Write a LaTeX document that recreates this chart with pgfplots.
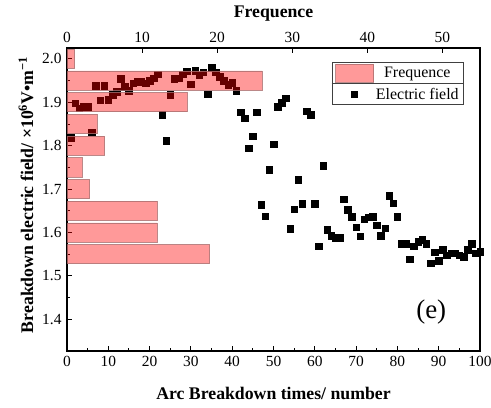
\documentclass[border=0pt]{standalone}
\usepackage{fontspec}
\setmainfont{Liberation Serif}
\usepackage{pgfplots}
\pgfplotsset{compat=1.18}
\definecolor{barfill}{RGB}{255,0,0}
\definecolor{barline}{RGB}{170,110,110}
\pgfplotsset{
  barlegend/.style={legend image code/.code={\draw[##1] (0bp,-9bp) rectangle (38bp,9bp);}},
  marklegend/.style={legend image code/.code={\draw[##1] plot coordinates {(19bp,0bp)};}},
}
\begin{document}
\begin{tikzpicture}
\begin{axis}[name=main,
  width=413bp, height=303bp, scale only axis,
  xmin=0, xmax=100, ymin=1.327, ymax=2.025,
  clip=false,
  xtick={0,10,...,100}, minor x tick num=1,
  ytick={1.4,1.5,...,2.0}, minor y tick num=1,
  xtick pos=bottom, ytick pos=left,
  tick align=inside,
  major tick length=5.5bp, minor tick length=3bp,
  axis line style={line width=1.1bp},
  every tick/.style={black, line width=0.9bp},
  /pgf/number format/assume math mode=true,
  ticklabel style={font=\fontsize{15.5}{15.5}\selectfont},
  yticklabel style={/pgf/number format/fixed, /pgf/number format/precision=1, /pgf/number format/fixed zerofill, xshift=-2bp},
  xticklabel style={yshift=-2bp},
  xlabel={\textbf{Arc Breakdown times/ number}},
  xlabel style={font=\fontsize{17.8}{17.8}\selectfont, at={(axis description cs:0.5,-0.14)}, anchor=center},
  ylabel={\textbf{Breakdown electric field/ ×10\textsuperscript{6}V•m\textsuperscript{−1}}},
  ylabel style={font=\fontsize{17.8}{17.8}\selectfont, at={(axis description cs:-0.099,0.515)}, anchor=center, rotate=0},
]
\addplot[only marks, mark=square*, mark size=3.3pt, black] table {
x y
1 1.819
2 1.898
3 1.886
4 1.890
5 1.890
6 1.831
7 1.938
8 1.905
9 1.938
10 1.906
11 1.917
12 1.924
13 1.954
14 1.936
15 1.927
16 1.944
17 1.948
18 1.948
19 1.944
20 1.950
21 1.955
22 1.965
23 1.872
24 1.812
25 1.918
26 1.954
27 1.955
28 1.965
29 1.972
30 1.942
31 1.973
32 1.962
33 1.969
34 1.919
35 1.980
36 1.969
37 1.959
38 1.950
39 1.940
40 1.945
41 1.926
42 1.877
43 1.863
44 1.794
45 1.822
46 1.877
47 1.664
48 1.638
49 1.744
50 1.803
51 1.890
52 1.899
53 1.909
54 1.609
55 1.654
56 1.721
57 1.666
58 1.879
59 1.871
60 1.666
61 1.568
62 1.754
63 1.606
64 1.592
65 1.588
66 1.588
67 1.677
68 1.652
69 1.637
70 1.612
71 1.591
72 1.631
73 1.635
74 1.637
75 1.617
76 1.592
77 1.610
78 1.685
79 1.667
80 1.637
81 1.574
82 1.574
83 1.538
84 1.568
85 1.579
86 1.583
87 1.574
88 1.529
89 1.555
90 1.535
91 1.560
92 1.548
93 1.552
94 1.552
95 1.548
96 1.544
97 1.561
98 1.574
99 1.552
100 1.556
};
\node[font=\fontsize{27}{27}\selectfont] at (axis description cs:0.882,0.127) {(e)};
\end{axis}
\begin{axis}[
  width=413bp, height=303bp, scale only axis,
  xmin=0, xmax=55, ymin=1.327, ymax=2.025,
  axis x line*=top, hide y axis,
  xtick={0,10,...,50}, xtick pos=top,
  tick align=inside, major tick length=5.5bp,
  axis line style={line width=1.1bp},
  every tick/.style={black, line width=0.9bp},
  /pgf/number format/assume math mode=true,
  ticklabel style={font=\fontsize{15.5}{15.5}\selectfont},
  xticklabel style={yshift=2bp},
  xlabel={\textbf{Frequence}},
  xlabel style={font=\fontsize{17.8}{17.8}\selectfont, at={(axis description cs:0.5,1.115)}, anchor=center},
  xbar, bar width=0.044,
  legend style={name=leg, at={(axis description cs:0.641,0.955)}, anchor=north west,
    draw=black!75, line width=0.8bp, font=\fontsize{16}{18}\selectfont,
    inner xsep=3bp, inner ysep=2bp, row sep=3bp},
  legend cell align=center,
]
\addplot[fill=barfill, fill opacity=0.4, draw=barline, draw opacity=0.8, line width=0.8bp, barlegend]
 coordinates {
(1,2.00)
(26,1.95)
(16,1.90)
(4,1.85)
(5,1.80)
(2,1.75)
(3,1.70)
(12,1.65)
(12,1.60)
(19,1.55)
};
\addlegendentry{Frequence}
\addlegendimage{only marks, mark=square*, mark size=2.8pt, black, marklegend}
\addlegendentry{Electric field}
\end{axis}
\draw[black!75, line width=0.8bp] (leg.west) -- (leg.east);
\pgfresetboundingbox
\path[use as bounding box] ([shift={(-67bp,-57bp)}]main.south west) rectangle ([shift={(11bp,48bp)}]main.north east);
\end{tikzpicture}
\end{document}
